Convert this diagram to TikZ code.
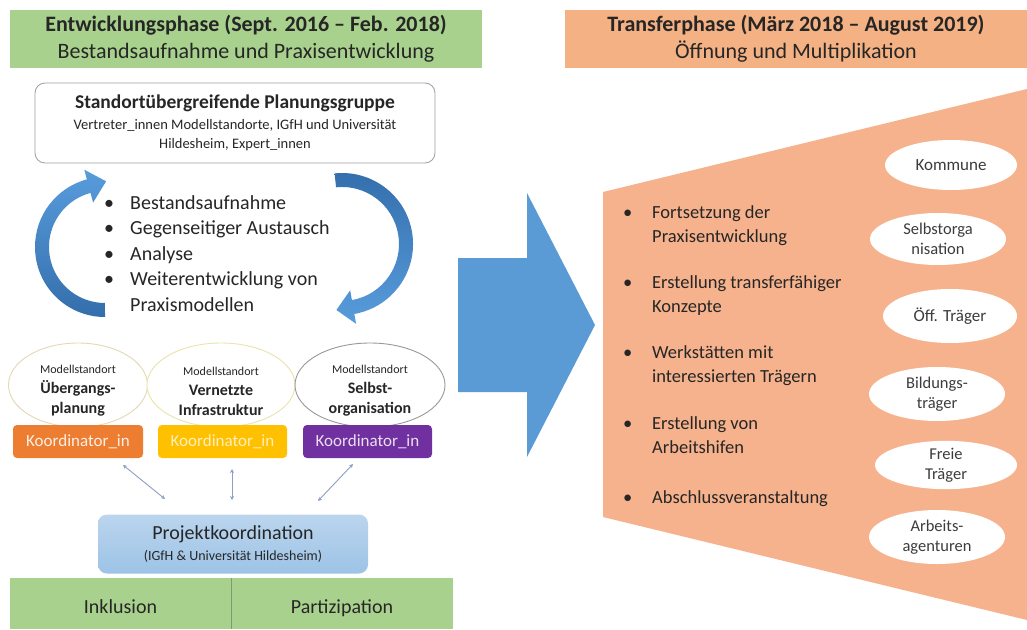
\documentclass[tikz,border=0pt]{standalone}
\usepackage{fontspec}
\setmainfont{Carlito}
\usetikzlibrary{shapes.geometric,arrows.meta}
\definecolor{hgreen}{RGB}{169,209,142}
\definecolor{hsalmon}{RGB}{244,177,131}
\definecolor{trap}{RGB}{246,178,140}
\definecolor{bigblue}{RGB}{91,155,213}
\definecolor{txt}{RGB}{38,38,38}
\definecolor{korange}{RGB}{237,125,49}
\definecolor{kyellow}{RGB}{255,192,0}
\definecolor{kpurple}{RGB}{112,48,160}
\definecolor{pkblue}{RGB}{157,195,230}
\definecolor{conncol}{RGB}{140,160,195}
\definecolor{arrlight}{RGB}{88,156,220}
\definecolor{arrdark}{RGB}{52,110,172}
\newcommand\lbul{\makebox[26pt][l]{\textbullet}}
\newcommand\rbul{\makebox[29pt][l]{\textbullet}}
\begin{document}
\begin{tikzpicture}[x=1pt,y=1pt,yscale=-1,
  hdr/.style={rectangle, inner sep=0pt, minimum height=58pt, align=center,
    font=\fontsize{22}{27}\selectfont, text=txt},
  melli/.style={ellipse, fill=white, line width=0.9pt, inner sep=0pt},
  mtext/.style={align=center, inner sep=0pt, text=txt, font=\fontsize{16}{20}\selectfont},
  kbox/.style={rectangle, rounded corners=4pt, minimum width=130pt, minimum height=33pt,
    inner sep=0pt, font=\fontsize{17}{20}\selectfont},
  relli/.style={ellipse, fill=white, inner sep=0pt, align=center, text=txt!90!white,
    font=\fontsize{17}{20}\selectfont},
  connline/.style={draw=conncol, line width=0.9pt, {Stealth[length=4pt,width=4pt]}-{Stealth[length=4pt,width=4pt]}},
  bar/.style={rectangle, fill=hgreen, inner sep=0pt, minimum height=51pt, text=txt,
    text height=27pt, text depth=7pt, font=\fontsize{20}{24}\selectfont}
]
\useasboundingbox (0,0) rectangle (1027,629);
\fill[white] (0,0) rectangle (1027,629);

% headers
\node[hdr, fill=hgreen, minimum width=472pt] (gh) at (246,39)
  {\textbf{Entwicklungsphase (Sept. 2016 – Feb. 2018)}\\Bestandsaufnahme und Praxisentwicklung};
\node[hdr, fill=hsalmon, minimum width=462pt] (sh) at (796,39)
  {\textbf{Transferphase (März 2018 – August 2019)}\\Öffnung und Multiplikation};

% planning group
\node[rectangle, rounded corners=10pt, draw=gray!75, line width=0.8pt, fill=white,
  minimum width=400pt, minimum height=80pt, align=center, inner sep=0pt,
  font=\fontsize{14.5}{19}\selectfont, text=txt] (pg) at (235,123)
  {{\fontsize{19.5}{22}\selectfont\bfseries Standortübergreifende Planungsgruppe}\\[2.5pt]
   Vertreter\_innen Modellstandorte, IGfH und Universität\\ Hildesheim, Expert\_innen};

% circular arrows
\shade[top color=arrlight, bottom color=arrdark]
  (105,317) arc[start angle=90, end angle=255, radius=70]
  -- (84.3,169.7) -- (106.1,181.3) -- (93.1,202.6) -- (90.5,192.9)
  arc[start angle=255, end angle=90, radius=56] -- cycle;
\shade[top color=arrdark, bottom color=arrlight]
  (334.6,173.4) arc[start angle=-96, end angle=80, radius=71]
  -- (356.1,323.8) -- (336.4,310) -- (350.2,290.3) -- (351.9,300.1)
  arc[start angle=80, end angle=-96, radius=57] -- cycle;

% left bullet list
\node[anchor=base west, inner sep=0pt, text=txt, font=\fontsize{20}{25.5}\selectfont] (lb) at (104,209)
  {\begin{tabular}[t]{@{}l@{}}
   \lbul Bestandsaufnahme\\
   \lbul Gegenseitiger Austausch\\
   \lbul Analyse\\
   \lbul Weiterentwicklung von\\
   \makebox[26pt]{}Praxismodellen
   \end{tabular}};

% model sites
\node[melli, draw={rgb,255:red,228;green,216;blue,180}, minimum width=139pt, minimum height=84pt] (e1) at (78,385) {};
\node[melli, draw={rgb,255:red,232;green,228;blue,170}, minimum width=148pt, minimum height=84pt] (e2) at (221,385) {};
\node[melli, draw=gray!80, minimum width=150pt, minimum height=84pt] (e3) at (370,385) {};
\node[mtext] (t1) at (78,391) {{\fontsize{12}{20}\selectfont Modellstandort}\\\textbf{Übergangs-}\\\textbf{planung}};
\node[mtext] (t2) at (221,391) {{\fontsize{12}{20}\selectfont Modellstandort}\\\textbf{Vernetzte}\\\textbf{Infrastruktur}};
\node[mtext] (t3) at (370,391) {{\fontsize{12}{20}\selectfont Modellstandort}\\\textbf{Selbst-}\\\textbf{organisation}};

\node[kbox, fill=korange, text=white!88!korange] (k1) at (78,441.5) {Koordinator\_in};
\node[kbox, fill=kyellow, text=white!75!kyellow, minimum width=129pt] (k2) at (222.5,441.5) {Koordinator\_in};
\node[kbox, fill=kpurple, text=white!85!kpurple, minimum width=129pt] (k3) at (367.5,441.5) {Koordinator\_in};

% project coordination
\node[rectangle, rounded corners=9pt, top color=pkblue!70!white, bottom color=pkblue,
  minimum width=270pt, minimum height=59pt, align=center, inner sep=0pt,
  font=\fontsize{14}{20.5}\selectfont, text=txt] (pk) at (233,544)
  {{\fontsize{20}{24}\selectfont Projektkoordination}\\(IGfH \& Universität Hildesheim)};

\coordinate (c1a) at (123,465); \coordinate (c1b) at (165,499);
\coordinate (c2a) at (232,469); \coordinate (c2b) at (232,500);
\coordinate (c3a) at (353,464); \coordinate (c3b) at (318,501);
\draw[connline] (c1a) -- (c1b);
\draw[connline] (c2a) -- (c2b);
\draw[connline] (c3a) -- (c3b);

% bottom bar
\node[bar, minimum width=221pt] (ink) at (120.5,603.5) {Inklusion};
\node[bar, minimum width=222pt] (par) at (342,603.5) {Partizipation};
\draw[hgreen!75!black, line width=0.6pt] (ink.north east) -- (ink.south east);

% big arrow
\fill[bigblue] (458,258) -- (527,258) -- (527,193) -- (595,325) -- (527,457) -- (527,392) -- (458,392) -- cycle;

% transfer trapezoid
\fill[trap] (603,192) -- (1027,89) -- (1027,620) -- (603,517) -- cycle;

\node[anchor=base west, inner sep=0pt, text=txt, font=\fontsize{18.5}{24}\selectfont] (rb) at (623,218)
  {\begin{tabular}[t]{@{}l@{}}
   \rbul Fortsetzung der\\
   \makebox[29pt]{}Praxisentwicklung\\[22pt]
   \rbul Erstellung transferfähiger\\
   \makebox[29pt]{}Konzepte\\[22pt]
   \rbul Werkstätten mit\\
   \makebox[29pt]{}interessierten Trägern\\[23pt]
   \rbul Erstellung von\\
   \makebox[29pt]{}Arbeitshifen\\[26pt]
   \rbul Abschlussveranstaltung
   \end{tabular}};

\node[relli, minimum width=132pt, minimum height=50pt] (r1) at (951,165) {Kommune};
\node[relli, minimum width=136pt, minimum height=52pt, font=\fontsize{16.5}{20}\selectfont] (r2) at (938,239) {Selbstorga\\nisation};
\node[relli, minimum width=134pt, minimum height=54pt] (r3) at (950,316) {Öff. Träger};
\node[relli, minimum width=136pt, minimum height=54pt, font=\fontsize{16.5}{20}\selectfont] (r4) at (937,394) {Bildungs-\\träger};
\node[relli, minimum width=142pt, minimum height=46pt, font=\fontsize{16.5}{20}\selectfont] (r5) at (946,465) {Freie\\Träger};
\node[relli, minimum width=136pt, minimum height=54pt, font=\fontsize{16.5}{20}\selectfont] (r6) at (937,537) {Arbeits-\\agenturen};
\end{tikzpicture}
\end{document}
